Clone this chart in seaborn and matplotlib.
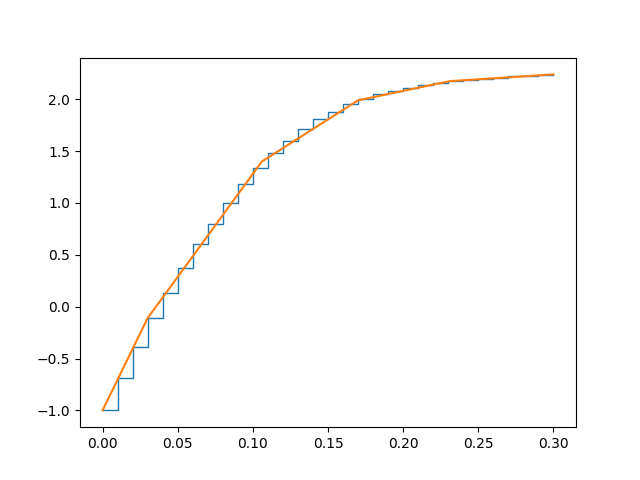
import numpy as np
import matplotlib
matplotlib.use("Agg")
import matplotlib.pyplot as plt
import seaborn as sns

# fixed-step values (stairs), one per 0.01 step
step_t = [0.00, 0.01, 0.02, 0.03, 0.04, 0.05, 0.06, 0.07, 0.08, 0.09,
          0.10, 0.11, 0.12, 0.13, 0.14, 0.15, 0.16, 0.17, 0.18, 0.19,
          0.20, 0.21, 0.22, 0.23, 0.24, 0.25, 0.26, 0.27, 0.28, 0.29, 0.30]
step_y = [-1.00, -0.69, -0.39, -0.11, 0.13, 0.37, 0.60, 0.80, 1.00, 1.18,
          1.34, 1.48, 1.60, 1.71, 1.81, 1.88, 1.95, 2.00, 2.05, 2.08,
          2.11, 2.14, 2.16, 2.18, 2.19, 2.20, 2.21, 2.22, 2.225, 2.23, 2.235]

# adaptive-step solution (polyline)
adapt_t = [0.0, 0.030, 0.106, 0.170, 0.231, 0.300]
adapt_y = [-1.0, -0.11, 1.40, 1.99, 2.175, 2.24]

fig, ax = plt.subplots(figsize=(6.4, 4.8), dpi=100)

sns.lineplot(x=np.array(step_t), y=np.array(step_y), ax=ax, color="C0",
             linewidth=1.0, drawstyle="steps-post")
sns.lineplot(x=np.array(adapt_t), y=np.array(adapt_y), ax=ax, color="C1",
             linewidth=1.5)

plt.savefig("out.png", dpi=100)
